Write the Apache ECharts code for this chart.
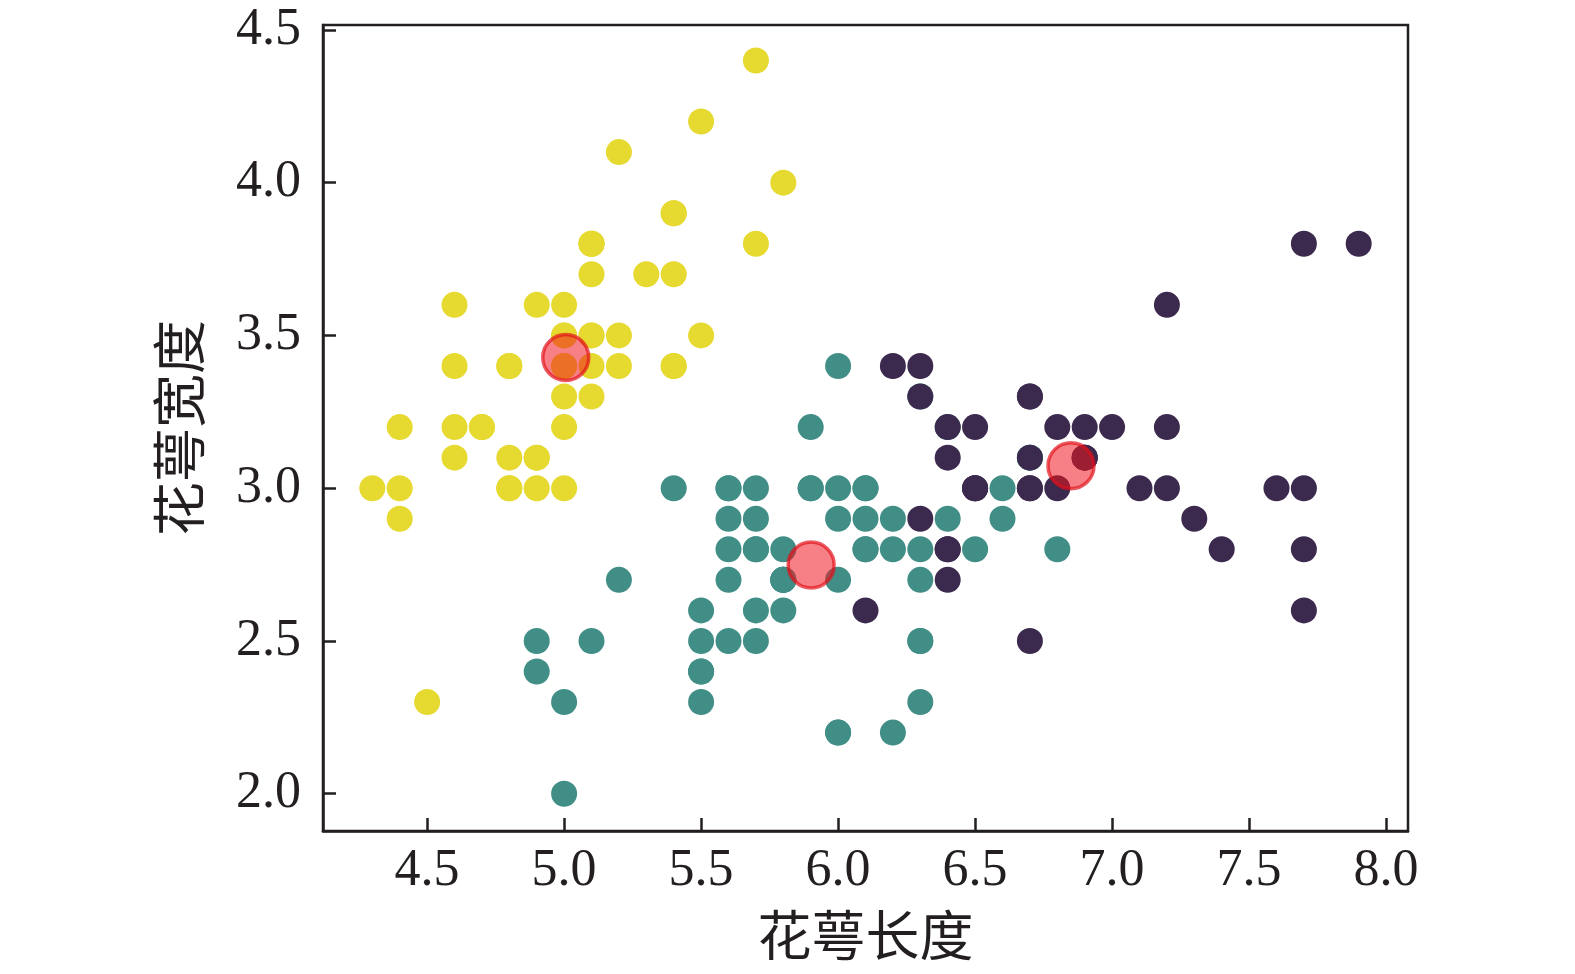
<!DOCTYPE html>
<html><head><meta charset="utf-8">
<script src="https://cdn.jsdelivr.net/npm/echarts@6/dist/echarts.min.js"></script>
<style>html,body{margin:0;padding:0;background:#fff}#c{width:1575px;height:974px}</style>
</head><body><div id="c"></div>
<script>
const xTicks = [4.5, 5.0, 5.5, 6.0, 6.5, 7.0, 7.5, 8.0];
const yTicks = [2.0, 2.5, 3.0, 3.5, 4.0, 4.5];
const xName = '花萼长度';
const yName = '花萼宽度';

const clusterYellowX = [5.1,4.9,4.7,4.6,5.0,5.4,4.6,5.0,4.4,4.9,5.4,4.8,4.8,4.3,5.8,5.7,5.4,5.1,5.7,5.1,5.4,5.1,4.6,5.1,4.8,5.0,5.0,5.2,5.2,4.7,4.8,5.4,5.2,5.5,4.9,5.0,5.5,4.9,4.4,5.1,5.0,4.5,4.4,5.0,5.1,4.8,5.1,4.6,5.3,5.0];
const clusterYellowY = [3.5,3.0,3.2,3.1,3.6,3.9,3.4,3.4,2.9,3.1,3.7,3.4,3.0,3.0,4.0,4.4,3.9,3.5,3.8,3.8,3.4,3.7,3.6,3.3,3.4,3.0,3.4,3.5,3.4,3.2,3.1,3.4,4.1,4.2,3.1,3.2,3.5,3.6,3.0,3.4,3.5,2.3,3.2,3.5,3.8,3.0,3.8,3.2,3.7,3.3];

const clusterTealX = [6.4,5.5,6.5,5.7,6.3,4.9,6.6,5.2,5.0,5.9,6.0,6.1,5.6,6.7,5.6,5.8,6.2,5.6,5.9,6.1,6.3,6.1,6.4,6.6,6.8,6.0,5.7,5.5,5.5,5.8,6.0,5.4,6.0,6.7,6.3,5.6,5.5,5.5,6.1,5.8,5.0,5.6,5.7,5.7,6.2,5.1,5.7,
  5.8,4.9,5.7,5.8,6.0,5.6,6.3,6.2,6.1,6.3,6.0,5.8,6.3,5.9];
const clusterTealY = [3.2,2.3,2.8,2.8,3.3,2.4,2.9,2.7,2.0,3.0,2.2,2.9,2.9,3.1,3.0,2.7,2.2,2.5,3.2,2.8,2.5,2.8,2.9,3.0,2.8,2.9,2.6,2.4,2.4,2.7,2.7,3.0,3.4,3.1,2.3,3.0,2.5,2.6,3.0,2.6,2.3,2.7,3.0,2.9,2.9,2.5,2.8,
  2.7,2.5,2.5,2.8,2.2,2.8,2.7,2.8,3.0,2.8,3.0,2.7,2.5,3.0];

const clusterDarkX = [7.0,6.9,6.7,6.3,7.1,6.3,6.5,7.6,7.3,6.7,7.2,6.5,6.4,6.8,6.4,6.5,7.7,7.7,6.9,7.7,6.7,7.2,6.4,7.2,7.4,7.9,6.4,6.1,7.7,6.3,6.4,6.9,6.7,6.9,6.8,6.7,6.7,6.5,6.2];
const clusterDarkY = [3.2,3.1,3.0,3.3,3.0,2.9,3.0,3.0,2.9,2.5,3.6,3.2,2.7,3.0,3.2,3.0,3.8,2.6,3.2,2.8,3.3,3.2,2.8,3.0,2.8,3.8,2.8,2.6,3.0,3.4,3.1,3.1,3.1,3.1,3.2,3.3,3.0,3.0,3.4];

const centroidX = [5.006, 5.9016, 6.85];
const centroidY = [3.428, 2.7484, 3.0737];

const pairs = (xs, ys) => xs.map((x, i) => [x, ys[i]]);
const fam = 'Liberation Serif, Noto Sans CJK SC, serif';
const ink = '#231f20';

const chart = echarts.init(document.getElementById('c'), null, {renderer: 'canvas'});
const dot = (name, color, xs, ys) => ({
  name, type: 'scatter', data: pairs(xs, ys), symbolSize: 26,
  itemStyle: {color: color, opacity: 1}, emphasis: {disabled: true}, silent: true
});
chart.setOption({
  animation: false,
  backgroundColor: '#fff',
  grid: {left: 323, top: 25, right: 167, bottom: 142, show: true, borderColor: ink, borderWidth: 2.5, backgroundColor: 'transparent'},
  xAxis: {
    type: 'value', min: 4.12, max: 8.08,
    name: xName, nameLocation: 'middle', nameGap: 84,
    nameTextStyle: {fontFamily: fam, fontSize: 54, color: ink},
    axisLine: {show: true, onZero: false, lineStyle: {color: ink, width: 2.5}},
    axisTick: {show: true, inside: true, length: 13, lineStyle: {color: ink, width: 2.5}, customValues: xTicks},
    axisLabel: {fontFamily: fam, fontSize: 52, color: ink, margin: 14, customValues: xTicks, formatter: v => v.toFixed(1)},
    splitLine: {show: false}
  },
  yAxis: {
    type: 'value', min: 1.878, max: 4.516,
    name: yName, nameLocation: 'middle', nameGap: 110, nameRotate: 90,
    nameTextStyle: {fontFamily: fam, fontSize: 54, color: ink},
    axisLine: {show: true, onZero: false, lineStyle: {color: ink, width: 2.5}},
    axisTick: {show: true, inside: true, length: 13, lineStyle: {color: ink, width: 2.5}, customValues: yTicks},
    axisLabel: {fontFamily: fam, fontSize: 52, color: ink, margin: 22, customValues: yTicks, formatter: v => v.toFixed(1)},
    splitLine: {show: false}
  },
  series: [
    dot('teal', '#418e87', clusterTealX, clusterTealY),
    dot('dark', '#3c2a4e', clusterDarkX, clusterDarkY),
    dot('yellow', '#e6d92f', clusterYellowX, clusterYellowY),
    {
      name: 'centroids', type: 'scatter', data: pairs(centroidX, centroidY), symbolSize: 46,
      itemStyle: {color: 'rgba(238,20,30,0.68)', borderColor: 'rgba(225,15,25,0.85)', borderWidth: 3.5},
      emphasis: {disabled: true}, silent: true
    }
  ]
});
</script></body></html>
